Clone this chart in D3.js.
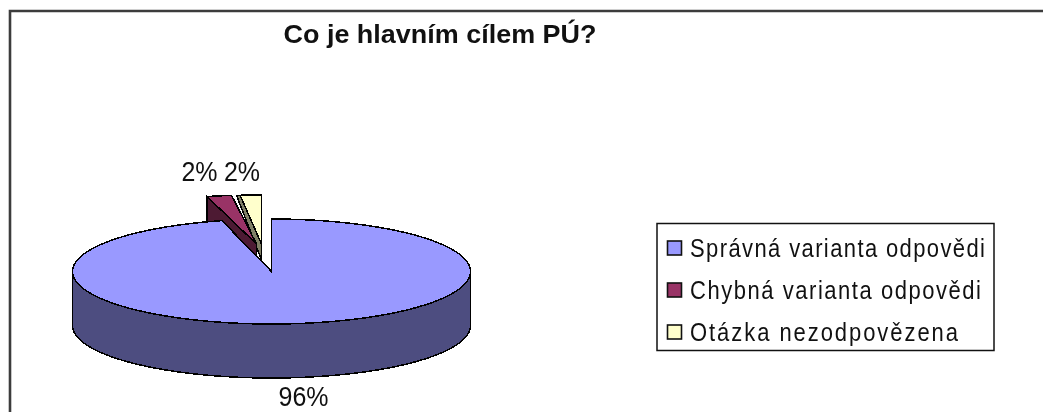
<!DOCTYPE html>
<html><head><meta charset="utf-8">
<script src="https://cdn.jsdelivr.net/npm/d3@7"></script>
<style>html,body{margin:0;padding:0;background:#fff;overflow:hidden}svg{display:block;filter:blur(.45px)}text{font-family:"Liberation Sans",Arial,sans-serif;fill:#111}</style>
</head><body><svg id="c" width="1043" height="412"></svg>
<script>
const title = "Co je hlavním cílem PÚ?";
const categories = ["Správná varianta odpovědi","Chybná varianta odpovědi","Otázka nezodpovězena"];
const values = [96,2,2];
const topColors = ["#9999ff","#993366","#ffffcc"];
const wallColors = ["#4d4d80","#4d1a33","#808066"];

const svg = d3.select("#c");
const cx=271.5, cy=271.5, rx=199, ry=52.5, depth=54;
svg.append("path").attr("d","M10,412V11H1043").attr("fill","none").attr("stroke","#3c3c3c").attr("stroke-width",2.6);
svg.append("text").attr("transform","translate(283.5,43) scale(1,1.3)").attr("font-size",20).attr("font-weight","bold")
  .attr("textLength",313).attr("lengthAdjust","spacingAndGlyphs").text(title);

const arcs = d3.pie().sort(null).startAngle(0).endAngle(2*Math.PI)(values);
const line = d3.line();
const layouts = [
  {ox:0,oy:0,rx:rx,ry:ry},
  {ox:-15,oy:-27.5,rx:rx,ry:49},
  {ox:-10,oy:-27.5,rx:rx,ry:49}
];
const pt=(a,l,dy=0)=>[cx+l.ox+l.rx*Math.sin(a), cy+l.oy-l.ry*Math.cos(a)+dy];
const arcPts=(a0,a1,l,dy=0)=>{const n=Math.max(2,Math.ceil((a1-a0)/0.02));return d3.range(n+1).map(i=>pt(a0+(a1-a0)*i/n,l,dy));};
const g=svg.append("g").attr("stroke","#000").attr("stroke-width",1.5).attr("stroke-linejoin","miter").attr("shape-rendering","crispEdges");
const poly=(pts,f)=>g.append("path").attr("d",line(pts)+"Z").attr("fill",f);

{
  const a=arcs[2], l=layouts[2], apex=[cx+l.ox,cy+l.oy];
  const o=pt(a.startAngle,l), inner=pt(a.startAngle+0.018,l);
  poly([o,inner,apex,[apex[0],apex[1]+16]],wallColors[2]);
  poly([apex,...arcPts(a.startAngle+0.018,a.endAngle,l)],topColors[2]);
}
{
  const a=arcs[1], l=layouts[1], apex=[cx+l.ox,cy+l.oy];
  const o=pt(a.startAngle,l);
  poly([o,[o[0],o[1]+depth],[apex[0],apex[1]+depth],apex],wallColors[1]);
  poly([apex,...arcPts(a.startAngle,a.endAngle,l)],topColors[1]);
}
{
  const a=arcs[0], l=layouts[0];
  const lo=Math.PI/2, hi=3*Math.PI/2;
  const rim=arcPts(lo,hi,l);
  poly([...rim,...rim.map(p=>[p[0],p[1]+depth]).reverse()],wallColors[0]);
  poly([[cx,cy],...arcPts(a.startAngle,a.endAngle,l)],topColors[0]);
}
const labelPos=[[303.5,406],[199.5,180.5],[242,180.5]];
const fmt=d3.format(".0%");
const total=d3.sum(values);
svg.selectAll("text.lab").data(values).join("text").attr("class","lab")
  .attr("transform",(d,i)=>`translate(${labelPos[i][0]},${labelPos[i][1]}) scale(1,1.1)`)
  .attr("text-anchor","middle").attr("font-size",25).text(d=>fmt(d/total));
svg.append("rect").attr("x",657).attr("y",223.5).attr("width",337).attr("height",127).attr("fill","#fff").attr("stroke","#111").attr("stroke-width",1.5);
const ly=d3.scalePoint().domain(categories).range([248,332]);
const lg=svg.selectAll("g.lg").data(categories).join("g").attr("class","lg").attr("transform",d=>`translate(0,${ly(d)})`);
lg.append("rect").attr("x",667.5).attr("y",-7).attr("width",14).attr("height",14).attr("fill",(d,i)=>topColors[i]).attr("stroke","#111").attr("stroke-width",1.6);
const widths=[295,291,268];
lg.append("text").attr("transform","translate(690,9) scale(1,1.18)").attr("font-size",22).attr("textLength",(d,i)=>widths[i]).attr("lengthAdjust","spacing").text(d=>d);
</script></body></html>
